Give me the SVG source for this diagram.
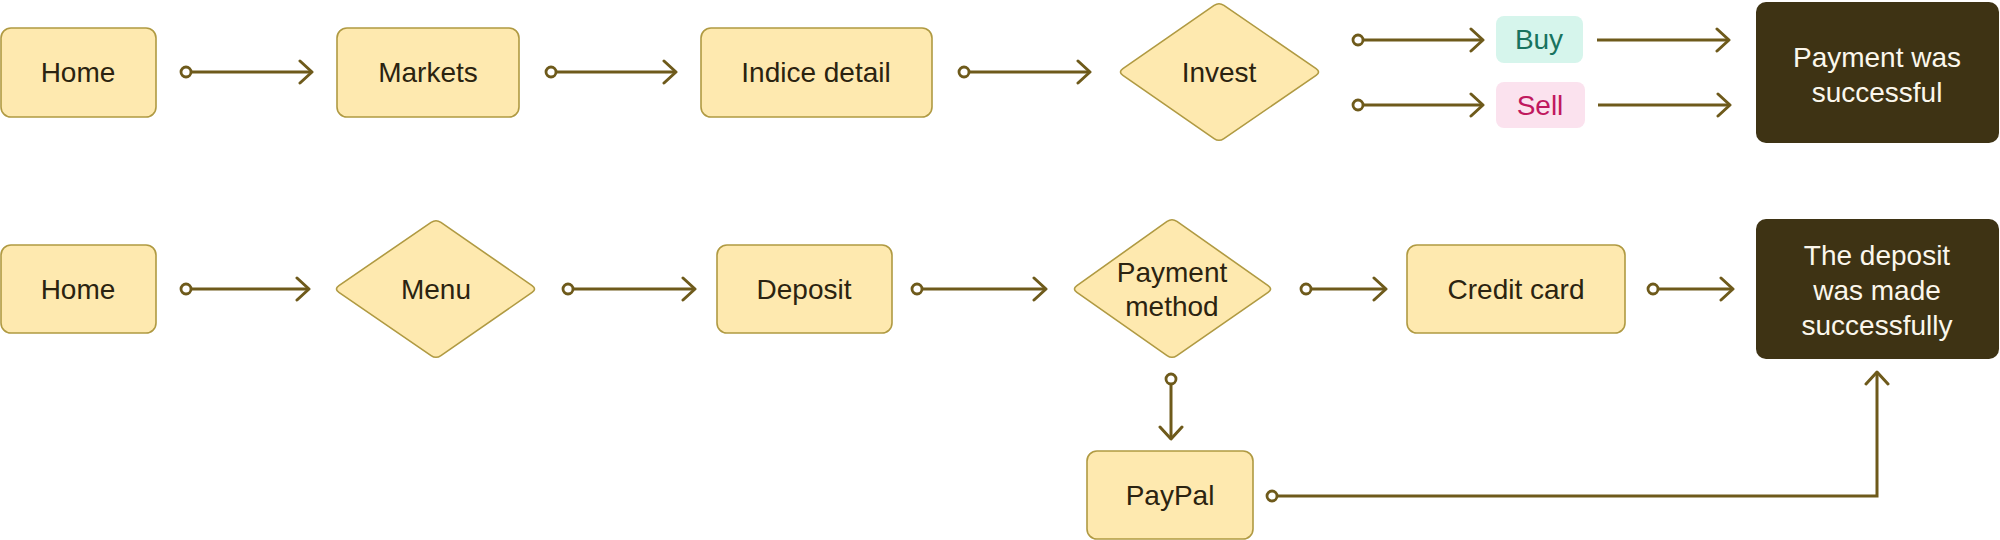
<svg xmlns="http://www.w3.org/2000/svg" width="2000" height="540" viewBox="0 0 2000 540">
<style>
.box{fill:#FEE9AF;stroke:#B09A42;stroke-width:1.6}
.dia{fill:#FEE9AF;stroke:#B09A42;stroke-width:1.6;stroke-linejoin:round}
.dark{fill:#3E3314}
.t{font-family:"Liberation Sans",Arial,sans-serif;font-size:28px;fill:#2B2310;text-anchor:middle;dominant-baseline:central}
.tw{fill:#FBF7EC}
.conn{fill:none;stroke:#6E5A1B;stroke-width:3;marker-end:url(#arr)}
.cs{marker-start:url(#dot)}
</style>
<defs>
<marker id="arr" viewBox="0 0 16 26" refX="14" refY="13" markerWidth="16" markerHeight="26" markerUnits="userSpaceOnUse" orient="auto">
<path d="M2,2 L14,13 L2,24" fill="none" stroke="#6E5A1B" stroke-width="3" stroke-linecap="round" stroke-linejoin="round"/>
</marker>
<marker id="dot" viewBox="0 0 16 16" refX="8" refY="8" markerWidth="16" markerHeight="16" markerUnits="userSpaceOnUse" orient="auto">
<circle cx="8" cy="8" r="5" fill="#FFFFFF" stroke="#6E5A1B" stroke-width="2.8"/>
</marker>
</defs>
<rect width="2000" height="540" fill="#FFFFFF"/>
<g id="connectors">
<path class="conn cs" d="M186,72 H312"/>
<path class="conn cs" d="M551,72 H676"/>
<path class="conn cs" d="M964,72 H1090"/>
<path class="conn cs" d="M1358,40 H1483"/>
<path class="conn cs" d="M1358,105 H1483"/>
<path class="conn" d="M1597,40 H1729"/>
<path class="conn" d="M1598,105 H1730"/>
<path class="conn cs" d="M186,289 H309"/>
<path class="conn cs" d="M568,289 H695"/>
<path class="conn cs" d="M917,289 H1046"/>
<path class="conn cs" d="M1306,289 H1386"/>
<path class="conn cs" d="M1653,289 H1733"/>
<path class="conn cs" d="M1171,379 V439"/>
<path class="conn cs" d="M1272,496 H1877 V372"/>
</g>
<g id="home1"><rect class="box" x="1" y="28" width="155" height="89" rx="10"/><text class="t" x="78" y="72">Home</text></g>
<g id="markets"><rect class="box" x="337" y="28" width="182" height="89" rx="10"/><text class="t" x="428" y="72">Markets</text></g>
<g id="indice"><rect class="box" x="701" y="28" width="231" height="89" rx="10"/><text class="t" x="816" y="72">Indice detail</text></g>
<g id="invest"><path class="dia" d="M1122.9,68.6 L1214.1,5.4 Q1219,2 1223.9,5.4 L1316.1,68.6 Q1321,72 1316.1,75.4 L1223.9,138.6 Q1219,142 1214.1,138.6 L1122.9,75.4 Q1118,72 1122.9,68.6 Z"/><text class="t" x="1219" y="72">Invest</text></g>
<g id="buy"><rect x="1496" y="16" width="87" height="47" rx="8" fill="#D6F5EC"/><text class="t" x="1539" y="39" style="fill:#18735F">Buy</text></g>
<g id="sell"><rect x="1496" y="82" width="89" height="46" rx="8" fill="#FBE2EE"/><text class="t" x="1540" y="105" style="fill:#C0185E">Sell</text></g>
<g id="paysuccess"><rect class="dark" x="1756" y="2" width="243" height="141" rx="10"/><text class="t tw" x="1877" y="57">Payment was</text><text class="t tw" x="1877" y="92">successful</text></g>
<g id="home2"><rect class="box" x="1" y="245" width="155" height="88" rx="10"/><text class="t" x="78" y="289">Home</text></g>
<g id="menu"><path class="dia" d="M338.9,285.6 L431.1,222.4 Q436,219 440.9,222.4 L532.1,285.6 Q537,289 532.1,292.4 L440.9,355.6 Q436,359 431.1,355.6 L338.9,292.4 Q334,289 338.9,285.6 Z"/><text class="t" x="436" y="289">Menu</text></g>
<g id="deposit"><rect class="box" x="717" y="245" width="175" height="88" rx="10"/><text class="t" x="804" y="289">Deposit</text></g>
<g id="paymethod"><path class="dia" d="M1076.9,285.6 L1167.1,221.4 Q1172,218 1176.9,221.4 L1268.1,285.6 Q1273,289 1268.1,292.4 L1176.9,355.6 Q1172,359 1167.1,355.6 L1076.9,292.4 Q1072,289 1076.9,285.6 Z"/><text class="t" x="1172" y="272">Payment</text><text class="t" x="1172" y="306">method</text></g>
<g id="credit"><rect class="box" x="1407" y="245" width="218" height="88" rx="10"/><text class="t" x="1516" y="289">Credit card</text></g>
<g id="depositdone"><rect class="dark" x="1756" y="219" width="243" height="140" rx="10"/><text class="t tw" x="1877" y="255">The deposit</text><text class="t tw" x="1877" y="290">was made</text><text class="t tw" x="1877" y="325">successfully</text></g>
<g id="paypal"><rect class="box" x="1087" y="451" width="166" height="88" rx="10"/><text class="t" x="1170" y="495">PayPal</text></g>
</svg>
